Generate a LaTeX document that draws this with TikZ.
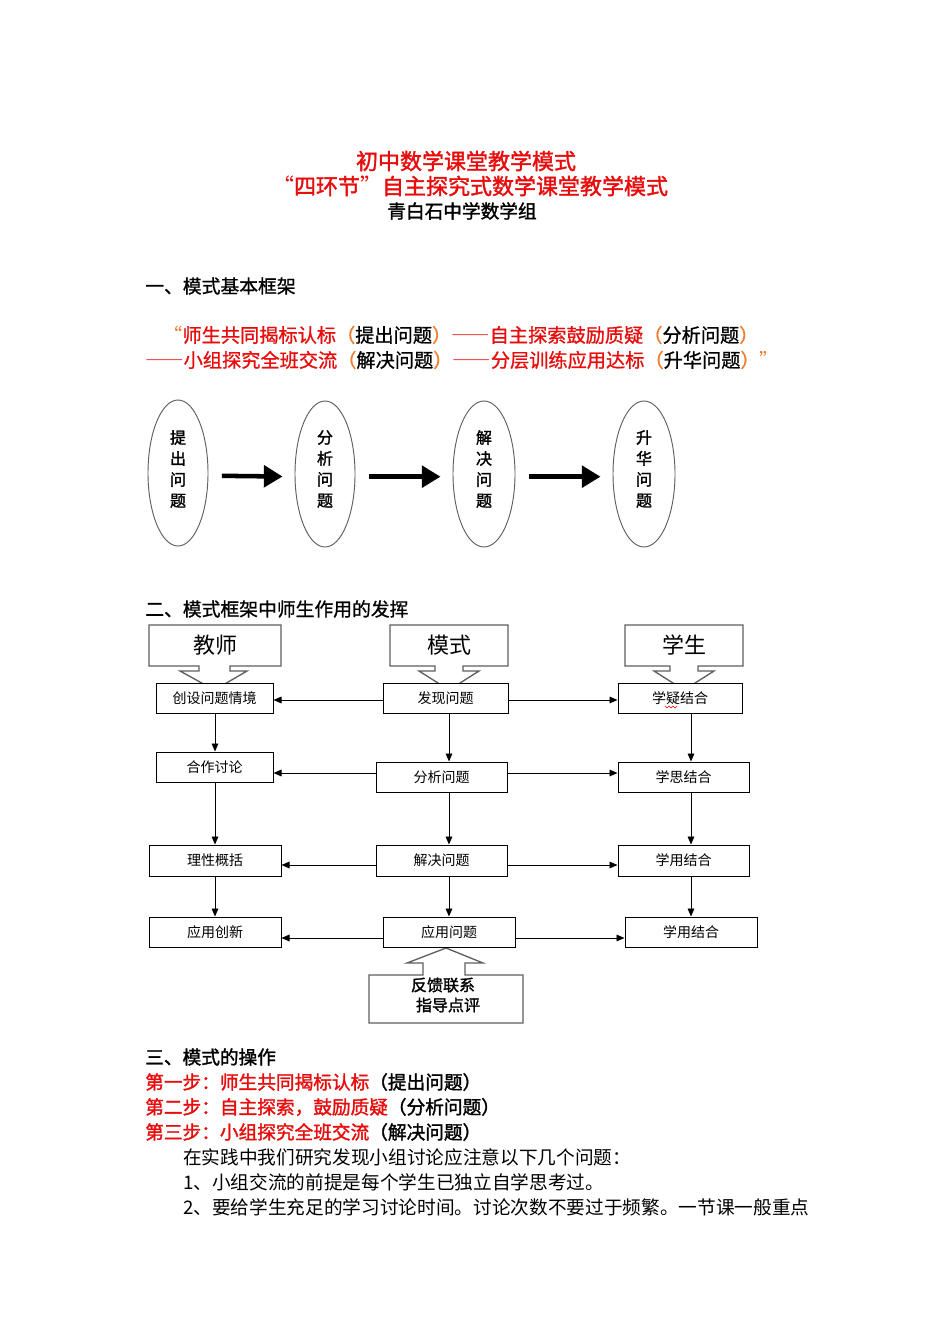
\documentclass[tikz,border=0pt]{standalone}
\usepackage{fontspec}
\setmainfont{Noto Sans CJK SC}
\newfontfamily\bcjk[FakeBold=1.6]{Noto Sans CJK SC}
\newfontfamily\mcjk[FakeBold=0.9]{Noto Sans CJK SC}
\newfontfamily\fw[RawFeature=+fwid]{Noto Sans CJK SC}
\usetikzlibrary{shapes.geometric,arrows.meta}
\definecolor{tred}{RGB}{232,12,12}
\definecolor{torange}{RGB}{237,125,49}
\definecolor{cgray}{RGB}{95,95,95}
\begin{document}
\begin{tikzpicture}[x=0.75pt,y=-0.75pt,
  txt/.style={inner sep=0pt, anchor=west, font=\mcjk\fontsize{14.1}{16}\selectfont},
  redtxt/.style={inner sep=0pt, anchor=west, font=\mcjk\fontsize{14.4}{16}\selectfont},
  body/.style={inner sep=0pt, anchor=west, font=\fontsize{14}{16}\selectfont},
  ttl/.style={inner sep=0pt, font=\bcjk\fontsize{16.5}{18}\selectfont, text=tred},
  ell/.style={ellipse, draw=cgray, line width=0.7pt, minimum width=45pt, minimum height=109.5pt, inner sep=0pt},
  etxt/.style={inner sep=0pt, align=center, font=\bcjk\fontsize{12}{15.75}\selectfont},
  bigarr/.style={line width=3.4pt, -{Triangle[length=14pt,width=16pt]}, shorten <=10pt, shorten >=9pt},
  box/.style={draw, line width=0.75pt, inner sep=0pt, fill=white, font=\fontsize{10.5}{12}\selectfont},
  callout/.style={draw=cgray, line width=1pt, fill=white, line join=miter},
  chead/.style={inner sep=0pt, font=\fontsize{16.5}{18}\selectfont},
  arr/.style={line width=0.7pt, -{Triangle[length=6pt,width=5pt]}},
]
\useasboundingbox[fill=white] (0,0) rectangle (950,1344);

% ---------- titles ----------
\node[ttl] (t1) at (466,161) {初中数学课堂教学模式};
\node[ttl] (t2) at (470,186) {{\fw “}四环节{\fw ”}自主探究式数学课堂教学模式};
\node[inner sep=0pt, font=\bcjk\fontsize{14}{16}\selectfont] (t3) at (462,211) {青白石中学数学组};

% ---------- section 1 ----------
\node[txt] (s1) at (145,286) {一、模式基本框架};
\node[redtxt] (r1line) at (163,335) {{\color{torange}\fw “}{\color{tred}师生共同揭标认标}{\color{torange}（}提出问题{\color{torange}）}{\color{tred}{\fw ——}自主探索鼓励质疑}{\color{torange}（}分析问题{\color{torange}）}};
\node[redtxt] (r2line) at (145,360) {{\color{tred}{\fw ——}小组探究全班交流}{\color{torange}（}解决问题{\color{torange}）}{\color{tred}{\fw ——}分层训练应用达标}{\color{torange}（}升华问题{\color{torange}）\fw ”}};

\node[ell] (e1) at (178,473) {};
\node[ell] (e2) at (325,474) {};
\node[ell, minimum width=46.5pt] (e3) at (484,474) {};
\node[ell, minimum width=46.5pt] (e4) at (644,474) {};
\node[etxt] (et1) at (e1 |- 0,469) {提\\出\\问\\题};
\node[etxt] (et2) at (e2 |- 0,469) {分\\析\\问\\题};
\node[etxt] (et3) at (e3 |- 0,469) {解\\决\\问\\题};
\node[etxt] (et4) at (e4 |- 0,469) {升\\华\\问\\题};
\draw[bigarr] ([yshift=-2pt]e1.east) -- ([yshift=-2pt]e2.west);
\draw[bigarr] ([yshift=-2pt]e2.east) -- ([yshift=-2pt]e3.west);
\draw[bigarr] ([yshift=-2pt]e3.east) -- ([yshift=-2pt]e4.west);

% ---------- section 2 ----------
\node[txt] (s2) at (145,609) {二、模式框架中师生作用的发挥};

% callouts (down)
\draw[callout] (149,625) -- (281,625) -- (281,666) -- (230,666) -- (230,671) -- (247,671)
  -- (214.5,690) -- (180,671) -- (199,671) -- (199,666) -- (149,666) -- cycle;
\draw[callout] (390,625) -- (508,625) -- (508,666) -- (463,666) -- (463,671) -- (479,671)
  -- (449,690) -- (419,671) -- (435,671) -- (435,666) -- (390,666) -- cycle;
\draw[callout] (625,625) -- (743,625) -- (743,666) -- (698,666) -- (698,671) -- (714,671)
  -- (684,690) -- (654,671) -- (670,671) -- (670,666) -- (625,666) -- cycle;
\node[chead] (h1) at (215,645) {教师};
\node[chead] (h2) at (449,645) {模式};
\node[chead] (h3) at (684,645) {学生};

% feedback callout (up)
\draw[callout] (369,1023) -- (523,1023) -- (523,975) -- (465,975) -- (465,963) -- (483,963)
  -- (446,948) -- (407,963) -- (423,963) -- (423,975) -- (369,975) -- cycle;
\node[inner sep=0pt, font=\bcjk\fontsize{12}{14}\selectfont] (fb1) at (443,985) {反馈联系};
\node[inner sep=0pt, font=\bcjk\fontsize{12}{14}\selectfont] (fb2) at (448,1005) {指导点评};

% boxes
\node[box, minimum width=87.75pt, minimum height=22.5pt] (l1) at (214.5,698) {创设问题情境};
\node[box, minimum width=93.75pt, minimum height=22.5pt] (m1) at (445.5,698) {发现问题};
\node[box, minimum width=93pt, minimum height=22.5pt] (r1) at (680,698) {学疑结合};
\node[box, minimum width=87.75pt, minimum height=22.5pt] (l2) at (214.5,767) {合作讨论};
\node[box, minimum width=98.25pt, minimum height=22.5pt] (m2) at (441.5,777) {分析问题};
\node[box, minimum width=98.25pt, minimum height=22.5pt] (r2) at (683.5,777) {学思结合};
\node[box, minimum width=99pt, minimum height=23.25pt] (l3) at (215,860.5) {理性概括};
\node[box, minimum width=98.25pt, minimum height=23.25pt] (m3) at (441.5,860.5) {解决问题};
\node[box, minimum width=98.25pt, minimum height=23.25pt] (r3) at (683.5,860.5) {学用结合};
\node[box, minimum width=99pt, minimum height=22.5pt] (l4) at (215,932) {应用创新};
\node[box, minimum width=99pt, minimum height=22.5pt] (m4) at (449,932) {应用问题};
\node[box, minimum width=99pt, minimum height=22.5pt] (r4) at (691,932) {学用结合};

% spell-check squiggle under 疑
\draw[red, line width=0.5pt] (665,706) -- (667,708) -- (669,706) -- (671,708) -- (673,706) -- (675,708) -- (677,706);

% column coordinates
\coordinate (cl) at (215,0);
\coordinate (cm) at (449,0);
\coordinate (cr) at (691,0);

% vertical arrows
\draw[arr] (l1.south -| cl) -- (l2.north -| cl);
\draw[arr] (l2.south -| cl) -- (l3.north -| cl);
\draw[arr] (l3.south -| cl) -- (l4.north -| cl);
\draw[arr] (m1.south -| cm) -- (m2.north -| cm);
\draw[arr] (m2.south -| cm) -- (m3.north -| cm);
\draw[arr] (m3.south -| cm) -- (m4.north -| cm);
\draw[arr] (r1.south -| cr) -- (r2.north -| cr);
\draw[arr] (r2.south -| cr) -- (r3.north -| cr);
\draw[arr] (r3.south -| cr) -- (r4.north -| cr);

% horizontal arrows
\draw[arr] (m1.west |- 0,700) -- (l1.east |- 0,700);
\draw[arr] (m1.east |- 0,700) -- (r1.west |- 0,700);
\draw[arr] (m2.west |- 0,773) -- (l2.east |- 0,773);
\draw[arr] (m2.east |- 0,773) -- (r2.west |- 0,773);
\draw[arr] (m3.west |- 0,865) -- (l3.east |- 0,865);
\draw[arr] (m3.east |- 0,865) -- (r3.west |- 0,865);
\draw[arr] (m4.west |- 0,938) -- (l4.east |- 0,938);
\draw[arr] (m4.east |- 0,938) -- (r4.west |- 0,938);

% ---------- section 3 ----------
\node[txt, font=\bcjk\fontsize{14}{16}\selectfont] (s3) at (145,1057) {三、模式的操作};
\node[txt, font=\bcjk\fontsize{14}{16}\selectfont] (st1) at (145,1082) {{\color{tred}第一步：师生共同揭标认标}（提出问题）};
\node[txt, font=\bcjk\fontsize{14}{16}\selectfont] (st2) at (145,1107) {{\color{tred}第二步：自主探索，鼓励质疑}（分析问题）};
\node[txt, font=\bcjk\fontsize{14}{16}\selectfont] (st3) at (145,1132) {{\color{tred}第三步：小组探究全班交流}（解决问题）};
\node[body] (p1) at (183,1157) {在实践中我们研究发现小组讨论应注意以下几个问题：};
\node[body] (p2) at (183,1182) {1、小组交流的前提是每个学生已独立自学思考过。};
\node[body] (p3) at (183,1207) {2、要给学生充足的学习讨论时间。讨论次数不要过于频繁。一节课一般重点};
\end{tikzpicture}
\end{document}
